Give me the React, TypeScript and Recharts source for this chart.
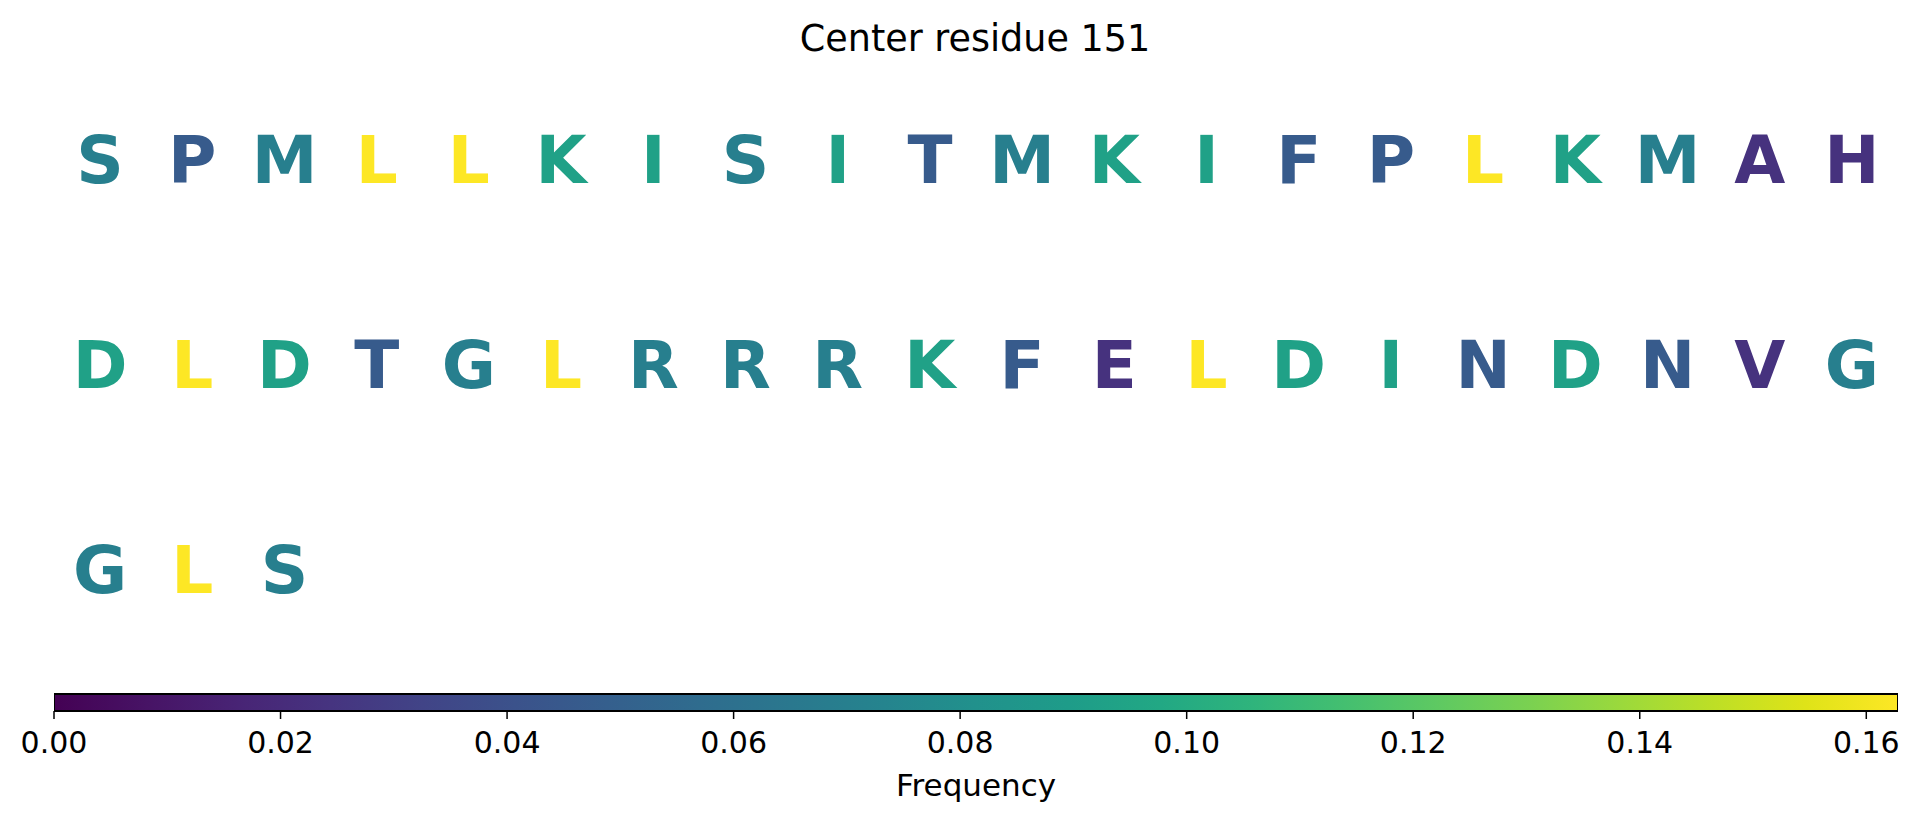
import { ScatterChart, Scatter, BarChart, Bar, XAxis, YAxis } from 'recharts';

const residues = [
  'S', 'P', 'M', 'L', 'L', 'K', 'I', 'S', 'I', 'T', 'M', 'K', 'I', 'F', 'P', 'L', 'K', 'M', 'A', 'H',
  'D', 'L', 'D', 'T', 'G', 'L', 'R', 'R', 'R', 'K', 'F', 'E', 'L', 'D', 'I', 'N', 'D', 'N', 'V', 'G',
  'G', 'L', 'S',
];

const frequencies = [
  0.0698, 0.0465, 0.0698, 0.1628, 0.1628, 0.093, 0.093, 0.0698, 0.093, 0.0465,
  0.0698, 0.093, 0.093, 0.0465, 0.0465, 0.1628, 0.093, 0.0698, 0.0233, 0.0233,
  0.093, 0.1628, 0.093, 0.0465, 0.0698, 0.1628, 0.0698, 0.0698, 0.0698, 0.093,
  0.0465, 0.0233, 0.1628, 0.093, 0.093, 0.0465, 0.093, 0.0465, 0.0233, 0.0698,
  0.0698, 0.1628, 0.0698,
];

const freqMax = 0.1628;
const colorbarTicks = [0, 0.02, 0.04, 0.06, 0.08, 0.1, 0.12, 0.14, 0.16];
const perRow = 20;

// viridis, sampled every 0.05
const viridis = [
  '#440154', '#471365', '#482475', '#463480', '#414487', '#3b528b', '#355f8d',
  '#2f6c8e', '#2a788e', '#25848e', '#21918c', '#1e9c89', '#22a884', '#2fb47c',
  '#44bf70', '#5ec962', '#7ad151', '#9bd93c', '#bddf26', '#dfe318', '#fde725',
];

function hexToRgb(h: string) {
  return [1, 3, 5].map((i) => parseInt(h.slice(i, i + 2), 16));
}

function viridisAt(t: number) {
  const v = Math.max(0, Math.min(1, t)) * (viridis.length - 1);
  const i = Math.min(Math.floor(v), viridis.length - 2);
  const f = v - i;
  const a = hexToRgb(viridis[i]);
  const b = hexToRgb(viridis[i + 1]);
  const c = a.map((x, k) => Math.round(x + (b[k] - x) * f));
  return `rgb(${c[0]},${c[1]},${c[2]})`;
}

const points = residues.map((letter, i) => ({
  col: i % perRow,
  row: Math.floor(i / perRow),
  letter,
  freq: frequencies[i],
}));

const colorbar = [{ name: 'cb', value: freqMax }];

const FONT = "'DejaVu Sans', sans-serif";

const LetterShape = (props: any) => {
  const { cx, cy, payload } = props;
  return (
    <text
      x={cx}
      y={cy + 24}
      textAnchor="middle"
      fontSize={66}
      fontWeight="bold"
      fontFamily={FONT}
      fill={viridisAt(payload.freq / freqMax)}
    >
      {payload.letter}
    </text>
  );
};

export default function App() {
  return (
    <div
      style={{
        position: 'absolute',
        left: 0,
        top: 0,
        width: 1921,
        height: 822,
        background: '#fff',
        fontFamily: FONT,
        overflow: 'hidden',
      }}
    >
      <svg width={1921} height={70} style={{ position: 'absolute', left: 0, top: 0 }}>
        <text x={975} y={51} textAnchor="middle" fontSize={36.5} fontFamily={FONT} fill="#000">
          Center residue 151
        </text>
      </svg>

      <div style={{ position: 'absolute', left: 0, top: 0 }}>
        <ScatterChart width={1921} height={680} margin={{ top: 56.5, right: 23, bottom: 8.5, left: 54 }}>
          <XAxis type="number" dataKey="col" domain={[-0.5, 19.5]} hide />
          <YAxis type="number" dataKey="row" domain={[-0.5, 2.5]} reversed hide />
          <Scatter data={points} shape={LetterShape} isAnimationActive={false} />
        </ScatterChart>
      </div>

      <div style={{ position: 'absolute', left: 0, top: 680 }}>
        <BarChart
          width={1921}
          height={142}
          layout="vertical"
          data={colorbar}
          barCategoryGap={0}
          margin={{ top: 14, right: 23, bottom: 81, left: 54 }}
        >
          <defs>
            <linearGradient id="viridisGrad" x1="0" y1="0" x2="1" y2="0">
              {viridis.map((c, i) => (
                <stop key={i} offset={`${(i / (viridis.length - 1)) * 100}%`} stopColor={c} />
              ))}
            </linearGradient>
          </defs>
          <XAxis
            type="number"
            dataKey="value"
            domain={[0, freqMax]}
            ticks={colorbarTicks}
            tickFormatter={(v: number) => v.toFixed(2)}
            interval={0}
            allowDataOverflow
            height={30}
            axisLine={false}
            tickSize={8}
            tickMargin={13}
            tickLine={{ stroke: '#000', strokeWidth: 1.5 }}
            tick={{ fill: '#000', fontSize: 30, fontFamily: FONT }}
            label={{
              content: (p: any) => (
                <text
                  x={p.viewBox.x + p.viewBox.width / 2}
                  y={p.viewBox.y + 85}
                  textAnchor="middle"
                  fontSize={31}
                  fontFamily={FONT}
                  fill="#000"
                >
                  Frequency
                </text>
              ),
            }}
          />
          <YAxis type="category" dataKey="name" hide />
          <Bar dataKey="value" fill="url(#viridisGrad)" stroke="#000" strokeWidth={2} isAnimationActive={false} />
        </BarChart>
      </div>
    </div>
  );
}
